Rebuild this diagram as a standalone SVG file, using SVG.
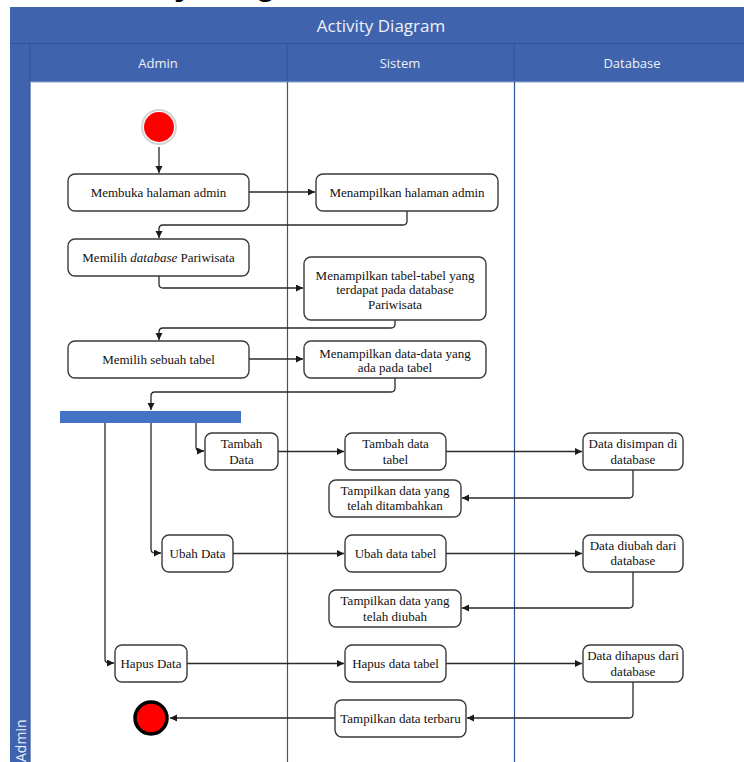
<svg xmlns="http://www.w3.org/2000/svg" width="744" height="762" viewBox="0 0 744 762">
  <defs>
    <marker id="arrow" markerUnits="userSpaceOnUse" markerWidth="8" markerHeight="8" refX="7" refY="3.5" orient="auto">
      <path d="M0,0 L7,3.5 L0,7 z" fill="#1a1a1a"/>
    </marker>
    <style>
      .band { fill: #3F63AD; }
      .sep { stroke: #33569A; stroke-width: 1.2; fill: none; }
      .lane { stroke: #2F5597; stroke-width: 1.2; fill: none; }
      .hdr { font-family: "Open Sans", "Noto Sans", sans-serif; fill: #EEF2FA; text-anchor: middle; }
      .vlabel { font-family: "Open Sans", "Noto Sans", sans-serif; fill: #EEF2FA; text-anchor: start; font-size: 14px; }
      .node rect { fill: #ffffff; stroke: #3a3a3a; stroke-width: 1.4; }
      .node text { font-family: "Liberation Serif", "Times New Roman", serif; font-size: 13px; fill: #111111; text-anchor: middle; }
      .conn path { fill: none; stroke: #2a2a2a; stroke-width: 1.3; marker-end: url(#arrow); }
    </style>
  </defs>

  <rect width="744" height="762" fill="#ffffff"/>

  <!-- page heading, mostly clipped above the sheet -->
  <text x="70" y="-5" font-family="Liberation Sans, Arial, sans-serif" font-size="34" font-weight="bold" fill="#000000">Activity Diagram</text>

  <!-- pool frame -->
  <g id="pool">
    <rect class="band" x="10" y="7" width="734" height="37"/>
    <rect class="band" x="10" y="44" width="20" height="718"/>
    <rect class="band" x="30" y="44" width="714" height="38"/>
    <line class="sep" x1="10" y1="43.5" x2="744" y2="43.5"/>
    <line class="sep" x1="30" y1="44" x2="30" y2="762"/>
    <line class="sep" x1="287" y1="44" x2="287" y2="82"/>
    <line class="sep" x1="514" y1="44" x2="514" y2="82"/>
    <line x1="30" y1="82" x2="744" y2="82" stroke="#8FA6D2" stroke-width="1"/>
    <line class="lane" x1="287.5" y1="82" x2="287.5" y2="762"/>
    <line class="lane" x1="514.5" y1="82" x2="514.5" y2="762"/>
    <text class="hdr" x="381" y="32" font-size="17">Activity Diagram</text>
    <text class="hdr" x="158" y="68" font-size="13">Admin</text>
    <text class="hdr" x="400" y="68" font-size="13">Sistem</text>
    <text class="hdr" x="632" y="68" font-size="13">Database</text>
    <text class="vlabel" x="0" y="0" transform="translate(25.5,762) rotate(-90)">Admin</text>
  </g>

  <!-- connectors -->
  <g id="connectors" class="conn">
    <path d="M159,147 V173"/>
    <path d="M249,192 H315"/>
    <path d="M407,211 V221 Q407,225 403,225 H163 Q159,225 159,229 V238"/>
    <path d="M159,276 V284 Q159,288 163,288 H303"/>
    <path d="M395,320 V324 Q395,328 391,328 H163 Q159,328 159,332 V340"/>
    <path d="M249,359 H303"/>
    <path d="M395,377 V388 Q395,392 391,392 H155 Q151,392 151,396 V410"/>
    <path d="M196,423 V447 Q196,451 200,451 H204"/>
    <path d="M151,423 V549 Q151,553 155,553 H161"/>
    <path d="M105,423 V659 Q105,663 109,663 H114"/>
    <path d="M278,451.5 H344"/>
    <path d="M446,451.5 H582"/>
    <path d="M633,470 V494 Q633,498 629,498 H462"/>
    <path d="M233,553.5 H344"/>
    <path d="M446,553.5 H582"/>
    <path d="M633,572 V604 Q633,608 629,608 H462"/>
    <path d="M187,663.5 H344"/>
    <path d="M446,663.5 H582"/>
    <path d="M633,682 V714 Q633,718 629,718 H467"/>
    <path d="M335,718 H170"/>
  </g>

  <!-- start / end -->
  <g id="start">
    <circle cx="159" cy="127" r="17" fill="#ffffff" stroke="#d4d4d4" stroke-width="2"/>
    <circle cx="159" cy="127" r="15" fill="#FF0000"/>
  </g>
  <g id="end">
    <circle cx="151" cy="718" r="16" fill="#FF0000" stroke="#000000" stroke-width="3.5"/>
  </g>

  <!-- fork bar -->
  <g id="fork">
    <rect x="60" y="411" width="181" height="12" fill="#4472C4"/>
  </g>

  <!-- activities -->
  <g id="n-membuka" class="node">
    <rect x="68" y="174" width="181" height="37" rx="7"/>
    <text x="158.5" y="196.5">Membuka halaman admin</text>
  </g>
  <g id="n-tampil-halaman" class="node">
    <rect x="316" y="174" width="182" height="37" rx="7"/>
    <text x="407" y="196.5">Menampilkan halaman admin</text>
  </g>
  <g id="n-pilih-db" class="node">
    <rect x="68" y="239" width="181" height="37" rx="7"/>
    <text x="158.5" y="262">Memilih <tspan font-style="italic">database</tspan> Pariwisata</text>
  </g>
  <g id="n-tampil-tabel" class="node">
    <rect x="304" y="257" width="182" height="63" rx="7"/>
    <text x="395" y="279.5">Menampilkan tabel-tabel yang</text>
    <text x="395" y="294">terdapat pada database</text>
    <text x="395" y="308.5">Pariwisata</text>
  </g>
  <g id="n-pilih-tabel" class="node">
    <rect x="68" y="341" width="181" height="37" rx="7"/>
    <text x="158.5" y="364">Memilih sebuah tabel</text>
  </g>
  <g id="n-tampil-data" class="node">
    <rect x="304" y="341" width="182" height="37" rx="7"/>
    <text x="395" y="357.5">Menampilkan data-data yang</text>
    <text x="395" y="371.5">ada pada tabel</text>
  </g>
  <g id="n-tambah" class="node">
    <rect x="205" y="433" width="73" height="37" rx="7"/>
    <text x="241.5" y="447.5">Tambah</text>
    <text x="241.5" y="463.5">Data</text>
  </g>
  <g id="n-tambah-tabel" class="node">
    <rect x="345" y="433" width="101" height="37" rx="7"/>
    <text x="395.5" y="448">Tambah data</text>
    <text x="395.5" y="463.5">tabel</text>
  </g>
  <g id="n-disimpan" class="node">
    <rect x="583" y="433" width="100" height="37" rx="7"/>
    <text x="633" y="448">Data disimpan di</text>
    <text x="633" y="463.5">database</text>
  </g>
  <g id="n-tampil-tambah" class="node">
    <rect x="329" y="480" width="132" height="37" rx="7"/>
    <text x="395" y="494.5">Tampilkan data yang</text>
    <text x="395" y="510">telah ditambahkan</text>
  </g>
  <g id="n-ubah" class="node">
    <rect x="162" y="535" width="71" height="37" rx="7"/>
    <text x="197.5" y="558">Ubah Data</text>
  </g>
  <g id="n-ubah-tabel" class="node">
    <rect x="345" y="535" width="101" height="37" rx="7"/>
    <text x="395.5" y="558">Ubah data tabel</text>
  </g>
  <g id="n-diubah" class="node">
    <rect x="583" y="535" width="100" height="37" rx="7"/>
    <text x="633" y="549.5">Data diubah dari</text>
    <text x="633" y="565">database</text>
  </g>
  <g id="n-tampil-ubah" class="node">
    <rect x="329" y="590" width="132" height="37" rx="7"/>
    <text x="395" y="605">Tampilkan data yang</text>
    <text x="395" y="620.5">telah diubah</text>
  </g>
  <g id="n-hapus" class="node">
    <rect x="115" y="645" width="72" height="37" rx="7"/>
    <text x="151" y="668">Hapus Data</text>
  </g>
  <g id="n-hapus-tabel" class="node">
    <rect x="345" y="645" width="101" height="37" rx="7"/>
    <text x="395.5" y="668">Hapus data tabel</text>
  </g>
  <g id="n-dihapus" class="node">
    <rect x="583" y="645" width="100" height="37" rx="7"/>
    <text x="633" y="660">Data dihapus dari</text>
    <text x="633" y="676">database</text>
  </g>
  <g id="n-terbaru" class="node">
    <rect x="335" y="700" width="131" height="37" rx="7"/>
    <text x="400.5" y="723">Tampilkan data terbaru</text>
  </g>
</svg>
